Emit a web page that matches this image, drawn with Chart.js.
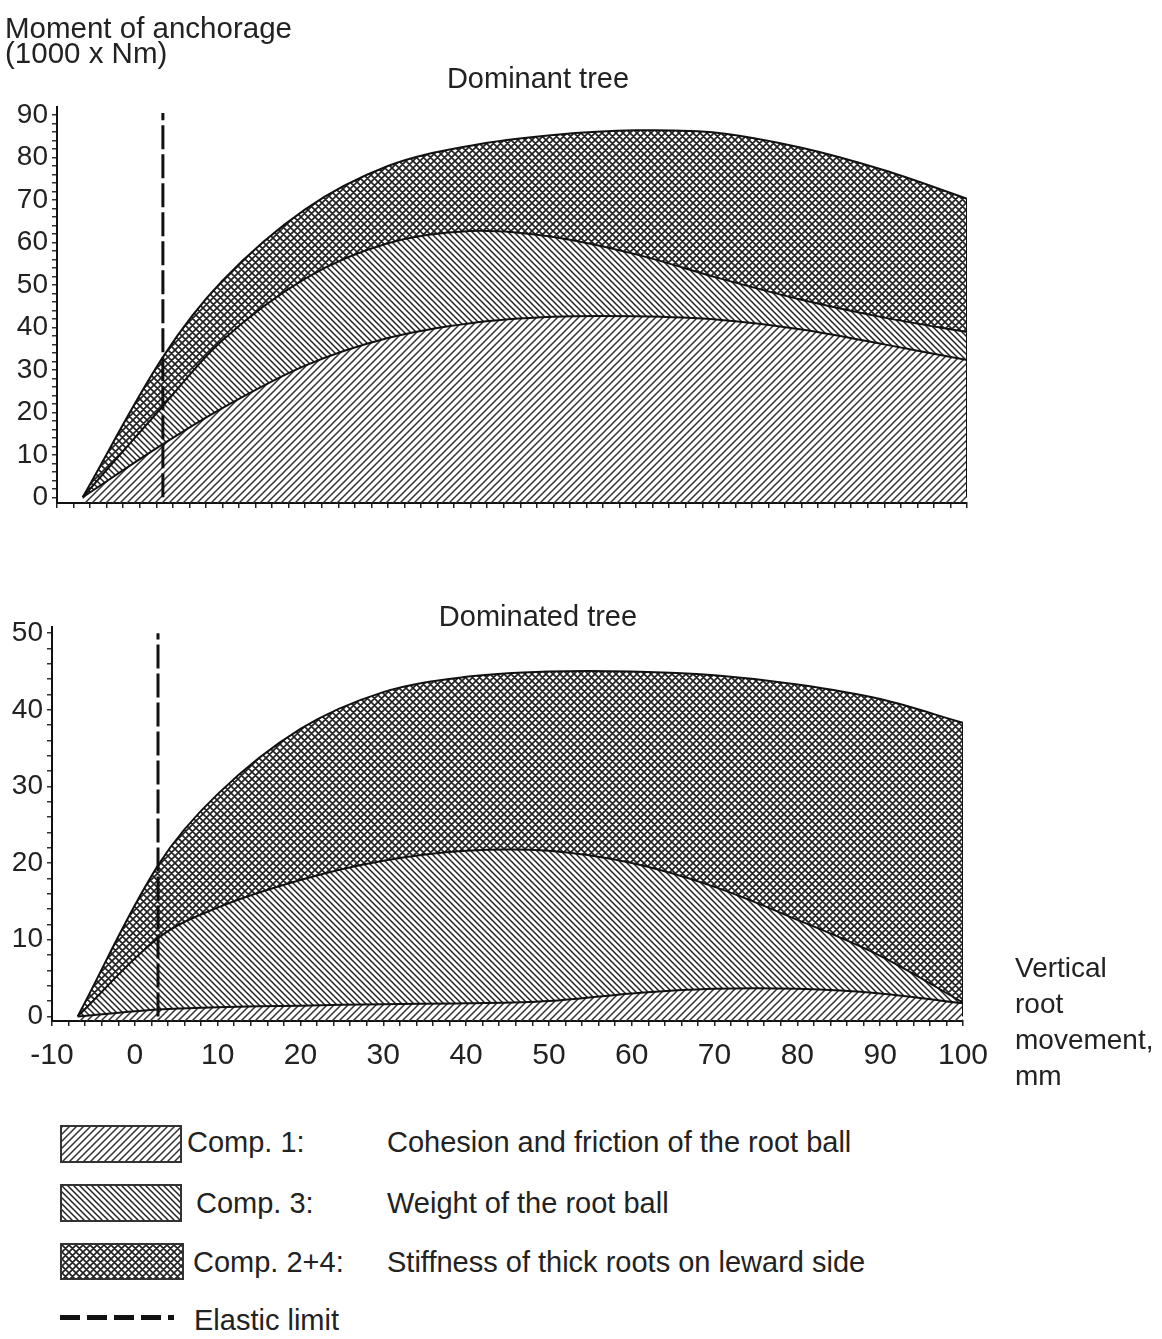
<!DOCTYPE html>
<html>
<head>
<meta charset="utf-8">
<script src="https://cdn.jsdelivr.net/npm/chart.js"></script>
<style>
  html,body{margin:0;padding:0;background:#fff;}
  body{width:1162px;height:1339px;position:relative;overflow:hidden;font-family:"Liberation Sans",Arial,sans-serif;color:#222;}
  canvas{position:absolute;left:0;}
  .t{position:absolute;white-space:nowrap;font-size:29px;line-height:34px;}
  .sw{position:absolute;box-sizing:border-box;border:2px solid #333;}
</style>
</head>
<body>
<canvas id="c1" width="1162" height="540" style="top:0"></canvas>
<canvas id="c2" width="1162" height="510" style="top:590px"></canvas>

<div class="t" style="left:5px;top:15px;line-height:25px;font-size:29.5px;">Moment of anchorage<br>(1000 x Nm)</div>
<div class="t" style="left:338px;width:400px;text-align:center;top:61px;">Dominant tree</div>
<div class="t" style="left:338px;width:400px;text-align:center;top:599px;">Dominated tree</div>
<div class="t" style="left:1015px;top:950px;font-size:28px;line-height:36px;">Vertical<br>root<br>movement,<br>mm</div>

<div class="sw" id="sw1" style="left:60px;top:1125px;width:122px;height:38px;"></div>
<div class="sw" id="sw2" style="left:60px;top:1184px;width:122px;height:38px;"></div>
<div class="sw" id="sw3" style="left:60px;top:1243px;width:124px;height:37px;"></div>
<div style="position:absolute;left:60px;top:1315px;width:114px;height:5px;background:repeating-linear-gradient(to right,#111 0 20px,transparent 20px 27px);"></div>

<div class="t" style="left:187px;top:1125px;">Comp. 1:</div>
<div class="t" style="left:196px;top:1186px;">Comp. 3:</div>
<div class="t" style="left:193px;top:1245px;">Comp. 2+4:</div>
<div class="t" style="left:194px;top:1303px;">Elastic limit</div>
<div class="t" style="left:387px;top:1125px;">Cohesion and friction of the root ball</div>
<div class="t" style="left:387px;top:1186px;">Weight of the root ball</div>
<div class="t" style="left:387px;top:1245px;">Stiffness of thick roots on leward side</div>

<script>
// ---------- DATA ----------
const seriesNames = ["Comp. 1", "Comp. 3", "Comp. 2+4", "Elastic limit"];
// x positions (vertical root movement, mm) where curves were read
const xDominant  = [-6.9, 2.8, 10, 20, 30, 40, 50, 60, 70, 80, 90, 100];
const xDominated = [-6.9, 2.8, 10, 20, 30, 40, 50, 60, 70, 80, 90, 100];

// Dominant tree: cumulative upper boundaries (1000 x Nm)
const domComp1   = [0, 12.5, 21, 31, 37.5, 41, 42.5, 42.6, 41.8, 39.5, 36, 32.3];
const domComp3   = [0, 21.5, 37, 51.5, 59.8, 62.7, 61.3, 57.2, 51.6, 46.5, 42.3, 38.9];
const domComp24  = [0, 33, 51, 67.8, 78, 82.8, 85.3, 86.4, 85.8, 82.3, 77, 70.3];

// Dominated tree: cumulative upper boundaries (1000 x Nm)
const subComp1   = [0, 0.9, 1.2, 1.4, 1.6, 1.7, 2.0, 3.0, 3.6, 3.6, 3.0, 1.7];
const subComp3   = [0, 10.2, 14.2, 17.8, 20.3, 21.6, 21.6, 20.0, 16.9, 12.6, 7.9, 1.8];
const subComp24  = [0, 19.7, 29, 37.5, 42.3, 44.3, 45, 45, 44.5, 43.3, 41.4, 38.3];

// Elastic limit (x position) and its drawn height in each panel
const elasticX = 2.8;
const elasticTopDominant = 90.5;
const elasticTopDominated = 50;

// Tick labels
const xTickLabels = [-10, 0, 10, 20, 30, 40, 50, 60, 70, 80, 90, 100];
const yTickLabelsDominant = [0, 10, 20, 30, 40, 50, 60, 70, 80, 90];
const yTickLabelsDominated = [0, 10, 20, 30, 40, 50];

// ---------- PATTERNS ----------
function tile(size, dirs, lw, color){
  const c = document.createElement('canvas');
  c.width = c.height = size;
  const g = c.getContext('2d');
  g.strokeStyle = color; g.lineWidth = lw; g.lineCap = 'square';
  g.beginPath();
  const s = size;
  if (dirs.includes('/')) {
    g.moveTo(0, s); g.lineTo(s, 0);
    g.moveTo(-s/2, s/2); g.lineTo(s/2, -s/2);
    g.moveTo(s/2, s*1.5); g.lineTo(s*1.5, s/2);
  }
  if (dirs.includes('\\')) {
    g.moveTo(0, 0); g.lineTo(s, s);
    g.moveTo(-s/2, s/2); g.lineTo(s/2, s*1.5);
    g.moveTo(s/2, -s/2); g.lineTo(s*1.5, s/2);
  }
  g.stroke();
  return c;
}
const tile1 = tile(7, '/', 1.5, '#333');
const tile3 = tile(6, '\\', 1.5, '#222');
const tile24 = tile(7, '/\\', 1.7, '#222');
const pctx = document.createElement('canvas').getContext('2d');
const pat1 = pctx.createPattern(tile1, 'repeat');
const pat3 = pctx.createPattern(tile3, 'repeat');
const pat24 = pctx.createPattern(tile24, 'repeat');
document.getElementById('sw1').style.background = 'url(' + tile1.toDataURL() + ')';
document.getElementById('sw2').style.background = 'url(' + tile3.toDataURL() + ')';
document.getElementById('sw3').style.background = 'url(' + tile24.toDataURL() + ')';

// ---------- CHARTS ----------
const FONT = '"Liberation Sans", Arial, sans-serif';
function pts(xs, ys){ return xs.map((x, i) => ({x: x, y: ys[i]})); }
function every(from, to, step){ const a=[]; for(let v=from; v<=to+1e-9; v+=step) a.push(Math.round(v*100)/100); return a; }

function panel(id, xs, c1, c3, c24, elasticTop, yLabels, opt){
  const lastX = xs[xs.length-1];
  const curve = {tension: 0.35, cubicInterpolationMode: 'default'};
  const datasets = [
    Object.assign({label: seriesNames[0], data: pts(xs, c1), fill: 'start', backgroundColor: pat1, borderColor: '#111', borderWidth: 2, order: 3}, curve),
    Object.assign({label: seriesNames[1], data: pts(xs, c3), fill: '-1', backgroundColor: pat3, borderColor: '#111', borderWidth: 2, order: 3}, curve),
    Object.assign({label: seriesNames[2], data: pts(xs, c24), fill: '-1', backgroundColor: pat24, borderColor: '#111', borderWidth: 2, order: 3}, curve),
    {label: 'edge', data: [{x: lastX, y: 0}, {x: lastX, y: c24[c24.length-1]}], fill: false, borderColor: '#111', borderWidth: 2, tension: 0, order: 2},
    {label: seriesNames[3], data: [{x: elasticX, y: 0}, {x: elasticX, y: elasticTop}], fill: false, borderColor: '#111', borderWidth: 3, borderDash: [24, 5], tension: 0, order: 1}
  ];
  const yMax = yLabels[yLabels.length-1];
  return new Chart(document.getElementById(id), {
    type: 'line',
    data: {datasets: datasets},
    options: {
      responsive: false, animation: false, devicePixelRatio: 1,
      layout: {padding: {left: 0, right: opt.padRight, top: opt.padTop, bottom: 0}},
      elements: {point: {radius: 0, hoverRadius: 0}},
      plugins: {legend: {display: false}, tooltip: {enabled: false}, title: {display: false}},
      scales: {
        x: {
          type: 'linear', min: -10, max: 100,
          afterBuildTicks: s => { s.ticks = every(-10, 100, 2).map(v => ({value: v})); },
          afterFit: s => { s.height = opt.xHeight; },
          grid: {display: true, drawOnChartArea: false, drawTicks: true, tickLength: 5, color: '#222', lineWidth: 1.5},
          border: {display: true, color: '#111', width: 2},
          ticks: {display: opt.xLabels, autoSkip: false, maxRotation: 0, padding: 12, color: '#222',
                  font: {family: FONT, size: 30},
                  callback: v => xTickLabels.includes(v) ? String(v) : ''}
        },
        y: {
          type: 'linear', min: opt.yMin, max: opt.yMax,
          afterBuildTicks: s => { s.ticks = every(0, yMax, 2).map(v => ({value: v})); },
          afterFit: s => { s.width = opt.yWidth; },
          grid: {display: true, drawOnChartArea: false, drawTicks: true, tickLength: 5, color: '#333', lineWidth: 1.5},
          border: {display: true, color: '#111', width: 2},
          ticks: {autoSkip: false, padding: 4, color: '#222', font: {family: FONT, size: 28},
                  callback: v => yLabels.includes(v) ? String(v) : ''}
        }
      }
    }
  });
}

panel('c1', xDominant, domComp1, domComp3, domComp24, elasticTopDominant, yTickLabelsDominant,
      {padRight: 195, padTop: 107, xHeight: 37, yWidth: 57, yMin: -1.35, yMax: 91.9, xLabels: false});
panel('c2', xDominated, subComp1, subComp3, subComp24, elasticTopDominated, yTickLabelsDominated,
      {padRight: 199, padTop: 37, xHeight: 79, yWidth: 52, yMin: -0.6, yMax: 50.8, xLabels: true});
</script>
</body>
</html>
